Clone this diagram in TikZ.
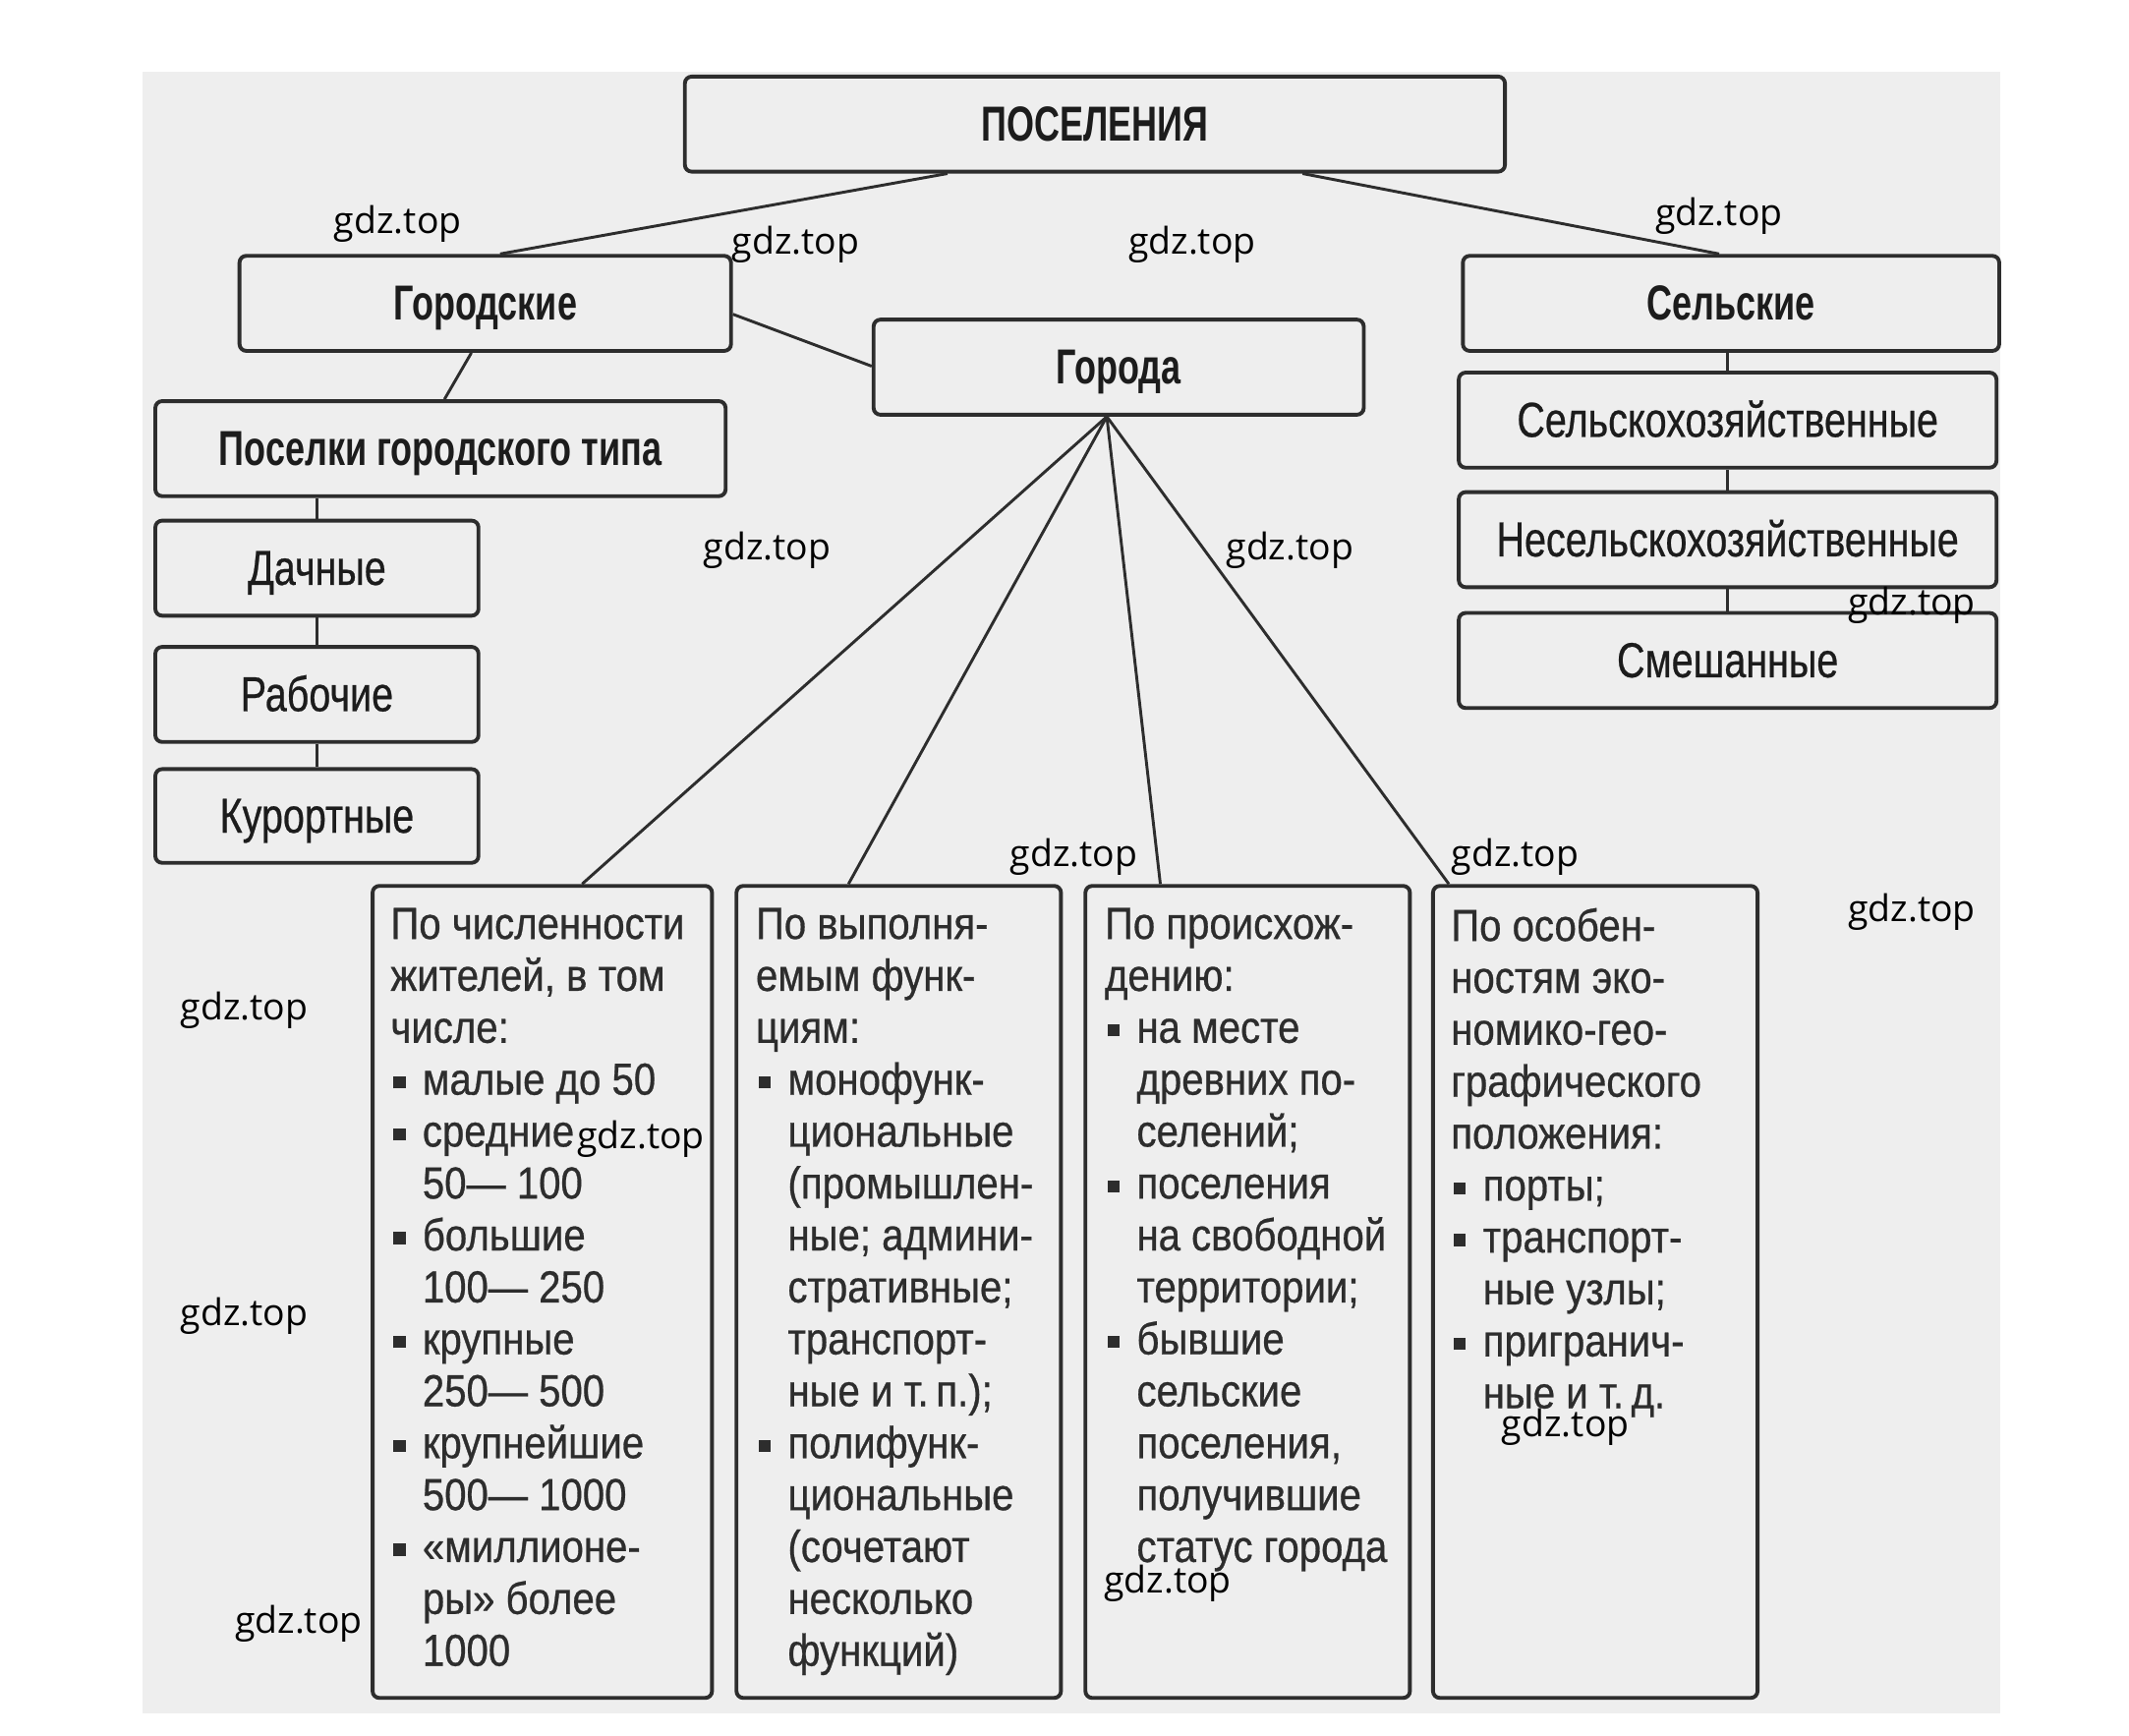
\documentclass[tikz,border=0pt]{standalone}
\usepackage{fontspec}
\setmainfont{Liberation Sans}
\newfontfamily\hfont{Liberation Sans}[FakeStretch=0.72]
\newfontfamily\rfont{Liberation Sans}[FakeStretch=0.79,FakeBold=0.5]
\newfontfamily\bfont{Liberation Sans}[FakeStretch=0.88,FakeBold=0.6]
\newfontfamily\wmfont{Open Sans}
\usetikzlibrary{calc}
\definecolor{bg}{RGB}{238,238,238}
\definecolor{ln}{RGB}{45,45,45}
\definecolor{tx}{RGB}{28,28,28}
\definecolor{tb}{RGB}{45,45,45}
\newcommand\itm{\makebox[2.35mm][l]{\hspace{0.2mm}\rule[0.14em]{0.27em}{0.27em}}}
\newcommand\ind{\hspace*{2.35mm}}
\begin{document}
\begin{tikzpicture}[x=0.1mm,y=-0.1mm,
 box/.style={draw=ln, line width=0.8pt, rounded corners=0.5mm, fill=bg, inner sep=0pt, anchor=north west, text=tx},
 hbox/.style={box, text height=7.0pt, text depth=0pt, font=\hfont\bfseries\fontsize{10.3}{12}\selectfont},
 rbox/.style={box, text height=7.0pt, text depth=0pt, font=\rfont\fontsize{10.3}{12}\selectfont},
 lbox/.style={box},
 btext/.style={anchor=north west, inner sep=0pt, align=left, text=tb, font=\bfont\fontsize{9.4}{10.88}\selectfont},
 conn/.style={draw=ln, line width=0.6pt},
 wm/.style={font=\wmfont\fontsize{7.7}{9}\selectfont, text=black, inner sep=0pt}]
\useasboundingbox (0,0) rectangle (1568,1278);
\fill[white] (0,0) rectangle (1568,1278);
\fill[bg] (105,53) rectangle (1473,1262);

% top level
\node[hbox, minimum width=60.4mm, minimum height=7mm] (pos) at (503,55) {ПОСЕЛЕНИЯ};
\node[hbox, minimum width=36.2mm, minimum height=7mm] (gorsk) at (175,187) {Городские};
\node[hbox, minimum width=36.1mm, minimum height=7mm] (gor) at (642,234) {Города};
\node[hbox, minimum width=39.5mm, minimum height=7mm] (sel) at (1076,187) {Сельские};
\node[hbox, minimum width=42mm, minimum height=7mm] (pgt) at (113,294) {Поселки городского типа};

\node[rbox, minimum width=23.8mm, minimum height=7mm] (dach) at (113,382) {Дачные};
\node[rbox, minimum width=23.8mm, minimum height=7mm] (rab) at (113,475) {Рабочие};
\node[rbox, minimum width=23.8mm, minimum height=6.9mm] (kur) at (113,565) {Курортные};

\node[rbox, minimum width=39.6mm, minimum height=7mm] (sx) at (1073,273) {Сельскохозяйственные};
\node[rbox, minimum width=39.6mm, minimum height=7mm] (nsx) at (1073,361) {Несельскохозяйственные};
\node[rbox, minimum width=39.6mm, minimum height=7mm] (sm) at (1073,450) {Смешанные};

% bottom boxes
\node[lbox, minimum width=25mm, minimum height=59.8mm] (b1) at (273,651) {};
\node[lbox, minimum width=23.9mm, minimum height=59.8mm] (b2) at (541,651) {};
\node[lbox, minimum width=23.9mm, minimum height=59.8mm] (b3) at (798,651) {};
\node[lbox, minimum width=23.9mm, minimum height=59.8mm] (b4) at (1054,651) {};

\node[btext] (t1) at (287,668) {По численности\\жителей, в том\\числе:\\
\itm малые до 50\\\itm средние\\\ind 50— 100\\\itm большие\\\ind 100— 250\\
\itm крупные\\\ind 250— 500\\\itm крупнейшие\\\ind 500— 1000\\
\itm «миллионе-\\\ind ры» более\\\ind 1000};
\node[btext] (t2) at (556,668) {По выполня-\\емым функ-\\циям:\\
\itm монофунк-\\\ind циональные\\\ind (промышлен-\\\ind ные; админи-\\\ind стративные;\\
\ind транспорт-\\\ind ные и т.\,п.);\\\itm полифунк-\\\ind циональные\\\ind (сочетают\\
\ind несколько\\\ind функций)};
\node[btext] (t3) at (813,668) {По происхож-\\дению:\\
\itm на месте\\\ind древних по-\\\ind селений;\\\itm поселения\\\ind на свободной\\
\ind территории;\\\itm бывшие\\\ind сельские\\\ind поселения,\\\ind получившие\\
\ind статус города};
\node[btext] (t4) at (1068,668) {По особен-\\ностям эко-\\номико-гео-\\графического\\положения:\\
\itm порты;\\\itm транспорт-\\\ind ные узлы;\\\itm пригранич-\\\ind ные и т.\,д.};

% connectors
\draw[conn] ($(pos.south west)!0.321!(pos.south east)$) -- ($(gorsk.north west)!0.53!(gorsk.north east)$);
\draw[conn] ($(pos.south west)!0.752!(pos.south east)$) -- ($(sel.north west)!0.478!(sel.north east)$);
\draw[conn] ($(gorsk.north east)!0.61!(gorsk.south east)$) -- ($(gor.north west)!0.49!(gor.south west)$);
\draw[conn] ($(gorsk.south west)!0.472!(gorsk.south east)$) -- ($(pgt.north west)!0.507!(pgt.north east)$);
\draw[conn] (dach.north) -- (dach.north |- pgt.south);
\draw[conn] (rab.north) -- (rab.north |- dach.south);
\draw[conn] (kur.north) -- (kur.north |- rab.south);
\draw[conn] (sx.north) -- (sx.north |- sel.south);
\draw[conn] (nsx.north) -- (nsx.north |- sx.south);
\draw[conn] (sm.north) -- (sm.north |- nsx.south);
\coordinate (gp) at ($(gor.south west)!0.476!(gor.south east)$);
\draw[conn] (gp) -- ($(b1.north west)!0.616!(b1.north east)$);
\draw[conn] (gp) -- ($(b2.north west)!0.347!(b2.north east)$);
\draw[conn] (gp) -- ($(b3.north west)!0.234!(b3.north east)$);
\draw[conn] (gp) -- ($(b4.north west)!0.054!(b4.north east)$);

% watermarks
\node[wm] (w1) at (293,165) {gdz.top};
\node[wm] (w2) at (586,180) {gdz.top};
\node[wm] (w3) at (878,180) {gdz.top};
\node[wm] (w4) at (1266,159) {gdz.top};
\node[wm] (w5) at (565,405) {gdz.top};
\node[wm] (w6) at (950,405) {gdz.top};
\node[wm] (w7) at (1408,446) {gdz.top};
\node[wm] (w8) at (791,631) {gdz.top};
\node[wm] (w9) at (1116,631) {gdz.top};
\node[wm] (w10) at (1408,672) {gdz.top};
\node[wm] (w11) at (180,744) {gdz.top};
\node[wm] (w12) at (472,839) {gdz.top};
\node[wm] (w13) at (180,969) {gdz.top};
\node[wm] (w14) at (220,1196) {gdz.top};
\node[wm] (w15) at (1153,1051) {gdz.top};
\node[wm] (w16) at (860,1166) {gdz.top};
\end{tikzpicture}
\end{document}
